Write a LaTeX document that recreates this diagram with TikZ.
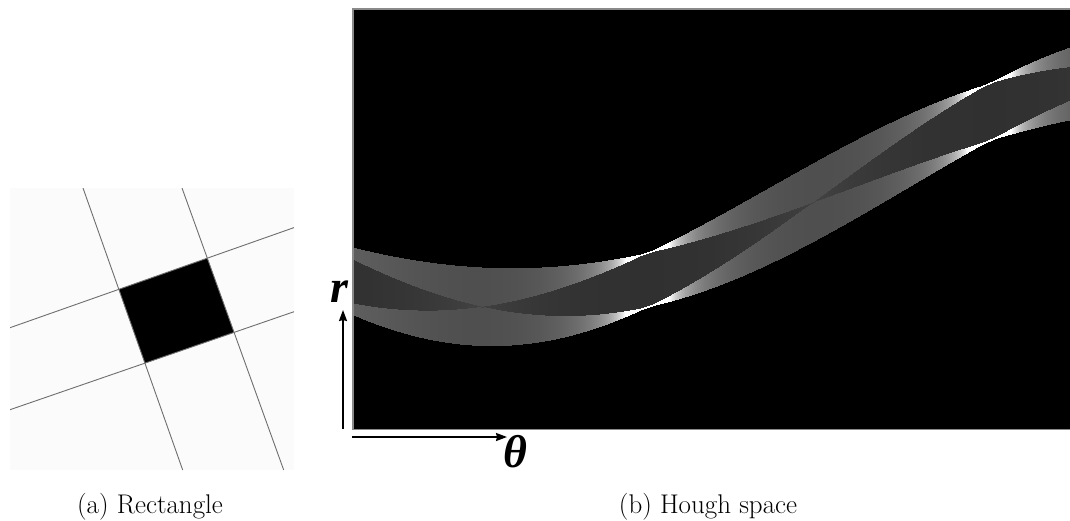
\documentclass[tikz,border=0pt]{standalone}
\usepackage{fontspec}
\newfontfamily\lsf{Liberation Serif}
\usetikzlibrary{arrows.meta}
\definecolor{imgbg}{HTML}{FBFBFB}
\definecolor{gridln}{HTML}{6E6E6E}
\definecolor{framegray}{HTML}{8A8A8A}
\tikzset{
  gridline/.style={draw=gridln, line width=0.9pt},
  frame/.style={draw=framegray, line width=1.5pt},
  axarrow/.style={draw=black, line width=1.6pt, -{Stealth[length=11pt,width=8pt,inset=1pt]}},
  axlab/.style={inner sep=0pt, font=\lsf\bfseries\itshape\fontsize{46}{48}\selectfont},
  captext/.style={inner sep=0pt, font=\fontsize{27}{29}\selectfont}
}
\begin{document}
\begin{tikzpicture}[x=1pt,y=-1pt]
\useasboundingbox (0,0) rectangle (1070,520);

% ---------- (a) rectangle image ----------
\fill[imgbg] (10,188) rectangle (294,470);
\coordinate (v1a) at (83,188);   \coordinate (v1b) at (182.7,470);
\coordinate (v2a) at (182,188);  \coordinate (v2b) at (283.7,470);
\coordinate (h1a) at (10,327.7); \coordinate (h1b) at (294,227.6);
\coordinate (h2a) at (10,409.7); \coordinate (h2b) at (294,311.7);
\begin{scope}
  \clip (10,188) rectangle (294,470);
  \fill[black] (intersection of v1a--v1b and h1a--h1b)
            -- (intersection of v2a--v2b and h1a--h1b)
            -- (intersection of v2a--v2b and h2a--h2b)
            -- (intersection of v1a--v1b and h2a--h2b) -- cycle;
  \draw[gridline] (v1a) -- (v1b);
  \draw[gridline] (v2a) -- (v2b);
  \draw[gridline] (h1a) -- (h1b);
  \draw[gridline] (h2a) -- (h2b);
\end{scope}

% ---------- (b) Hough space ----------
\begin{scope}
  \clip (352,8) rectangle (1070,430);
  \fill[black] (352,8) rectangle (1070,430);
  \foreach \x in {353,...,1070}{
    \pgfmathsetmacro\hth{(\x-355)/3.8}
    \pgfmathsetmacro\hyc{187.75+94.25*cos(\hth)+73.2*sin(\hth)}
    \pgfmathsetmacro\hph{(\x-648)/3.8}
    \pgfmathsetmacro\hca{max(abs(cos(\hph)),0.03)}
    \pgfmathsetmacro\hsa{max(abs(sin(\hph)),0.03)}
    \pgfmathsetmacro\hout{27*\hca+28.5*\hsa}
    \pgfmathsetmacro\hmid{abs(27*\hca-28.5*\hsa)}
    \pgfmathsetmacro\hvo{1/\hca+1/\hsa}
    \pgfmathsetmacro\hvm{(27*\hca>28.5*\hsa) ? 2/\hca : 2/\hsa}
    \pgfmathsetmacro\hfall{min(1,max(0.25,0.25+(\x-355)/150))}
    \pgfmathsetmacro\hgo{min(1,0.31+\hfall*0.085*(\hvo-2.83))}
    \pgfmathsetmacro\hgm{min(1,0.19+0.085*(\hvm-2))}
    \definecolor{hco}{gray}{\hgo}
    \definecolor{hcm}{gray}{\hgm}
    \fill[hco] (\x-0.6,\hyc-\hout) rectangle (\x+0.6,\hyc+\hout);
    \fill[hcm] (\x-0.6,\hyc-\hmid) rectangle (\x+0.6,\hyc+\hmid);
  }
\end{scope}
\draw[frame] (1070,8.75) -- (352.75,8.75) -- (352.75,429.25) -- (1070,429.25);

% ---------- axes ----------
\coordinate (rbot) at (343,429);
\coordinate (rtip) at (343,310);
\coordinate (tleft) at (352,437);
\coordinate (ttip) at (507,437);
\draw[axarrow] (rbot) -- (rtip);
\draw[axarrow] (tleft) -- (ttip);
\node[axlab, anchor=base west] (rlab) at (330,302) {r};
\node[axlab, anchor=base west] (tlab) at (503,467) {θ};

% ---------- captions ----------
\node[captext, anchor=base] (capa) at (150,513) {(a) Rectangle};
\node[captext, anchor=base] (capb) at (708,513) {(b) Hough space};
\end{tikzpicture}
\end{document}
